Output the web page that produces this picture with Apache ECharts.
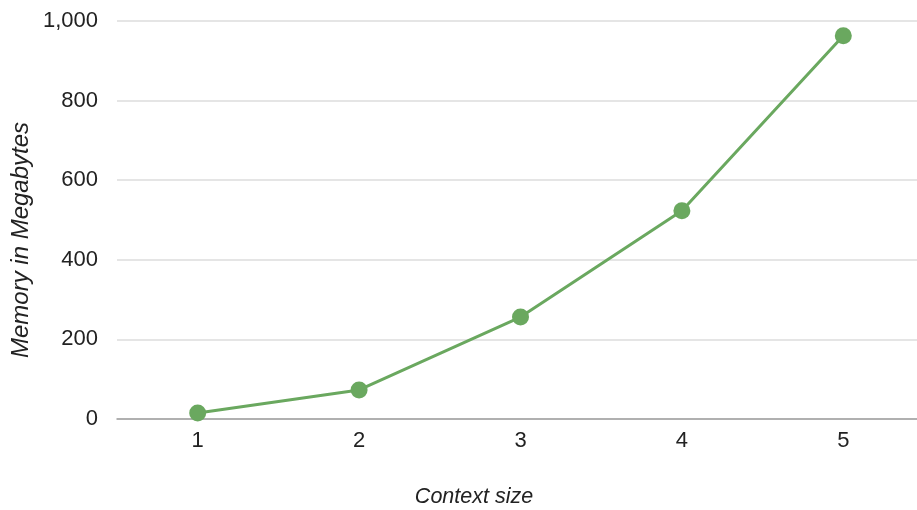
<!DOCTYPE html>
<html>
<head>
<meta charset="utf-8">
<script src="https://cdn.jsdelivr.net/npm/echarts@6/dist/echarts.min.js"></script>
<style>
  html, body { margin: 0; padding: 0; background: #fff; }
  #chart { width: 917px; height: 510px; }
</style>
</head>
<body>
<div id="chart"></div>
<script>
// Memory use by context size
const contextSizes = ['1', '2', '3', '4', '5'];
const memoryMB = [15, 73, 256, 523, 963];
const yTicks = [0, 200, 400, 600, 800, 1000];

const FONT = '"Liberation Sans", Arial, sans-serif';
const TEXT = '#222222';
const GREEN = '#6aa85f';

const chart = echarts.init(document.getElementById('chart'), null, { renderer: 'canvas' });

chart.setOption({
  animation: false,
  grid: {
    left: 117, width: 807, top: 21, bottom: 91,
    containLabel: false, outerBoundsMode: 'none'
  },
  xAxis: {
    type: 'category',
    data: contextSizes,
    boundaryGap: true,
    axisLine: { show: true, lineStyle: { color: '#9e9e9e', width: 1.5 } },
    axisTick: { show: false },
    axisLabel: { color: TEXT, fontFamily: FONT, fontSize: 22, margin: 11 },
    splitLine: { show: false }
  },
  yAxis: {
    type: 'value',
    min: yTicks[0],
    max: yTicks[yTicks.length - 1],
    interval: 200,
    axisLine: { show: false },
    axisTick: { show: false },
    axisLabel: {
      color: TEXT, fontFamily: FONT, fontSize: 22, margin: 19,
      formatter: v => v.toLocaleString('en-US')
    },
    splitLine: { lineStyle: { color: '#dcdcdc', width: 1.5 } }
  },
  graphic: [
    {
      type: 'text',
      x: 474, y: 497,
      style: {
        text: 'Context size',
        textAlign: 'center', textVerticalAlign: 'middle',
        fill: TEXT, font: 'italic 21.5px ' + FONT
      }
    },
    {
      type: 'text',
      x: 21, y: 240,
      rotation: Math.PI / 2,
      style: {
        text: 'Memory in Megabytes',
        textAlign: 'center', textVerticalAlign: 'middle',
        fill: TEXT, font: 'italic 24px ' + FONT
      }
    }
  ],
  series: [{
    type: 'line',
    data: memoryMB,
    symbol: 'circle',
    symbolSize: 17,
    lineStyle: { color: GREEN, width: 3 },
    itemStyle: { color: GREEN },
    z: 3
  }]
});
</script>
</body>
</html>
